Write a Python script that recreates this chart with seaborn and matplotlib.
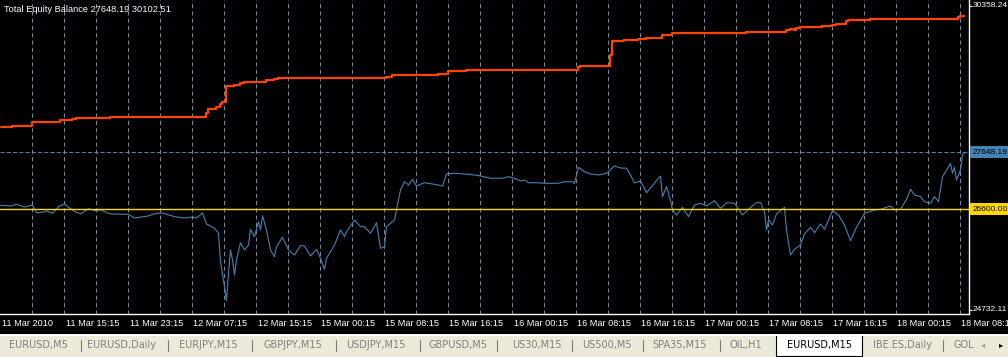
import matplotlib
matplotlib.use("Agg")
import matplotlib.pyplot as plt
import pandas as pd
import seaborn as sns
from matplotlib.patches import Rectangle
from matplotlib.transforms import blended_transform_factory

# ---------------- data ----------------
title_text = "Total Equity Balance 27648.19 30102.51"
x_labels = ["11 Mar 2010", "11 Mar 15:15", "11 Mar 23:15", "12 Mar 07:15", "12 Mar 15:15",
            "15 Mar 00:15", "15 Mar 08:15", "15 Mar 16:15", "16 Mar 00:15", "16 Mar 08:15",
            "16 Mar 16:15", "17 Mar 00:15", "17 Mar 08:15", "17 Mar 16:15", "18 Mar 00:15",
            "18 Mar 08:15"]

balance_bar = [0, 6, 16, 18, 30, 36, 38, 55, 103, 104, 108, 110, 111, 113, 117, 120, 122,
               133, 137, 139, 193, 196, 200, 219, 224, 233, 289, 290, 292, 305, 306, 312,
               319, 323, 331, 336, 373, 393, 395, 397, 398, 400, 405, 411, 416, 418, 423,
               424, 435, 479, 480, 482]
balance_val = [28119, 28143, 28206, 28217, 28254, 28267, 28291, 28310, 28372, 28452, 28483,
               28539, 28576, 28875, 28902, 28928, 28957, 28989, 29013, 29026, 29050, 29076,
               29087, 29105, 29155, 29180, 29224, 29242, 29253, 29451, 29716, 29735, 29753,
               29772, 29816, 29859, 29883, 29909, 29933, 29920, 29951, 29964, 29975, 29994,
               30012, 30031, 30081, 30099, 30118, 30149, 30173, 30173]

equity_bar = [0, 5, 8, 12, 16, 18, 21, 23, 26, 29, 32, 34, 37, 40, 44, 47, 50, 55, 64, 67,
              73, 78, 81, 87, 92, 96, 98, 101, 103, 107, 109, 110, 112, 113, 114, 115, 116,
              117, 118, 120, 122, 124, 125, 127, 129, 130, 131, 133, 135, 137, 138, 141, 144,
              147, 150, 152, 155, 158, 160, 162, 163, 167, 170, 172, 173, 177, 180, 182, 185,
              188, 190, 192, 193, 197, 199, 200, 202, 204, 206, 208, 212, 217, 221, 223, 227,
              232, 237, 240, 245, 251, 254, 257, 260, 262, 264, 268, 273, 279, 282, 286, 287,
              289, 292, 295, 299, 303, 307, 310, 313, 315, 317, 320, 323, 327, 328, 330, 331,
              333, 335, 336, 338, 341, 344, 347, 350, 353, 357, 360, 363, 367, 371, 374, 378,
              380, 382, 383, 384, 386, 388, 392, 393, 395, 397, 400, 402, 405, 407, 410, 412,
              416, 419, 422, 425, 428, 432, 437, 440, 445, 447, 450, 453, 455, 457, 460, 462,
              465, 467, 469, 471, 472, 475, 476, 477, 478, 480, 481, 482]
equity_val = [26670, 26657, 26688, 26638, 26675, 26533, 26540, 26564, 26522, 26644, 26694,
              26633, 26559, 26509, 26607, 26570, 26583, 26509, 26503, 26435, 26466, 26522,
              26527, 26459, 26435, 26453, 26435, 26527, 26324, 26244, 26152, 25626, 25163,
              24904, 25411, 25843, 25658, 25380, 25658, 25978, 25843, 25935, 26226, 26089,
              26366, 26213, 26477, 26213, 25843, 25719, 25904, 26078, 25843, 25750, 25922,
              25917, 25732, 25856, 25689, 25485, 25689, 25935, 26213, 26089, 26181, 26398,
              26274, 26274, 26152, 26348, 25874, 25904, 26274, 26398, 26768, 26953, 27107,
              27046, 27151, 27027, 27088, 27058, 27027, 27249, 27262, 27249, 27231, 27212,
              27170, 27170, 27199, 27170, 27120, 27138, 27088, 27088, 27077, 27077, 27107,
              27107, 27077, 27373, 27292, 27249, 27231, 27262, 27397, 27360, 27355, 27231,
              27083, 27120, 26903, 27077, 27125, 27212, 26829, 27014, 26768, 26583, 26490,
              26633, 26459, 26675, 26707, 26657, 26755, 26614, 26718, 26707, 26490, 26596,
              26718, 26725, 26551, 26213, 26398, 26305, 26509, 26633, 26213, 25750, 25856,
              25935, 26139, 26263, 26163, 26324, 26226, 26570, 26490, 26305, 26015, 26263,
              26522, 26583, 26596, 26657, 26583, 26596, 26781, 26966, 26860, 26829, 26736,
              26707, 26829, 26736, 27199, 27262, 27443, 27262, 27373, 27138, 27323, 27601,
              27648.19]

start_level = 26600.0
equity_last = 27648.19
scale_top = 30358.24
scale_bottom = 24732.11

tab_names = ["EURUSD,M5", "EURUSD,Daily", "EURJPY,M15", "GBPJPY,M15", "USDJPY,M15",
             "GBPUSD,M5", "US30,M15", "US500,M5", "SPA35,M15", "OIL,H1", "EURUSD,M15",
             "IBE.ES,Daily", "GOLD"]
active_tab = "EURUSD,M15"

# ---------------- style ----------------
sns.set_style("dark")
plt.rcParams["font.family"] = ["Liberation Sans", "DejaVu Sans"]

ORANGE = "#FF4500"
BLUE = "#4682B4"
GOLD = "#FFD700"
GRID = "#778899"
BEIGE = "#ECE9D8"

W, H = 1008, 357
fig = plt.figure(figsize=(W / 100, H / 100), dpi=100, facecolor="black")

# main chart area: x 0..969 px, y 0..314 px
ax = fig.add_axes([0, 1 - 314 / H, 969 / W, 314 / H])
ax.set_facecolor("black")

bal_df = pd.DataFrame({"bar": balance_bar, "value": balance_val})
eq_df = pd.DataFrame({"bar": equity_bar, "value": equity_val})

sns.lineplot(data=bal_df, x="bar", y="value", ax=ax, color=ORANGE, linewidth=1.6,
             drawstyle="steps-post", estimator=None, sort=False)
sns.lineplot(data=eq_df, x="bar", y="value", ax=ax, color=BLUE, linewidth=0.8,
             estimator=None, sort=False)
ax.axhline(start_level, color=GOLD, linewidth=1.0, zorder=3)
ax.axhline(equity_last, color=BLUE, linewidth=0.75, dashes=(4, 2), zorder=3)

ax.set_xlim(-0.25, 484.25)
ax.set_ylim(24658, 30469)

# vertical grid every 16 bars
for b in range(16, 484, 16):
    ax.axvline(b, color=GRID, linewidth=0.75, dashes=(4, 3), zorder=1)

major = list(range(0, 484, 32))
minor = list(range(16, 484, 32))
ax.set_xticks(major)
ax.set_xticks(minor, minor=True)
ax.set_xticklabels(x_labels[:len(major)], ha="left")
ax.tick_params(axis="x", which="major", colors="white", length=5.5, width=0.8,
               labelsize=6.6, pad=0.5, direction="inout")
ax.tick_params(axis="x", which="minor", colors="white", length=2.2, width=0.8,
               direction="in")
for lbl in ax.get_xticklabels():
    lbl.set_transform(lbl.get_transform() + matplotlib.transforms.ScaledTranslation(
        1 / 100, 0, fig.dpi_scale_trans))

ax.set_yticks([scale_bottom, start_level, equity_last, scale_top])
ax.set_yticklabels([])
ax.yaxis.tick_right()
ax.tick_params(axis="y", colors="white", length=2.2, width=0.8, direction="out")
ax.set_xlabel("")
ax.set_ylabel("")

for side in ["top", "left"]:
    ax.spines[side].set_visible(False)
for side in ["right", "bottom"]:
    ax.spines[side].set_visible(True)
    ax.spines[side].set_color("white")
    ax.spines[side].set_linewidth(1.0)
ax.grid(False)

tr = blended_transform_factory(ax.transAxes, ax.transData)
xr = 972.5 / 969
yfs = 6.0
ax.text(xr, scale_top, "30358.24", transform=tr, color="white", fontsize=yfs,
        va="center", ha="left", clip_on=False)
ax.text(xr, scale_bottom, "24732.11", transform=tr, color="white", fontsize=yfs,
        va="center", ha="left", clip_on=False)
ax.text(xr, equity_last, "27648.19", transform=tr, color="black", fontsize=yfs,
        va="center", ha="left", clip_on=False,
        bbox=dict(boxstyle="square,pad=0.3", fc=BLUE, ec="none"))
ax.text(xr, start_level, "26600.00", transform=tr, color="black", fontsize=yfs,
        va="center", ha="left", clip_on=False,
        bbox=dict(boxstyle="square,pad=0.3", fc=GOLD, ec="none"))

ax.text(4 / 969, 1 - 10 / 314, title_text, transform=ax.transAxes, color="white",
        fontsize=6.7, va="center", ha="left")

# ---------------- tab bar ----------------
tab_ax = fig.add_axes([0, 0, 1, 23 / H])
tab_ax.set_xlim(0, W)
tab_ax.set_ylim(23, 0)
tab_ax.axis("off")
tab_ax.add_patch(Rectangle((0, 0), W, 23, facecolor=BEIGE, edgecolor="none"))
tab_ax.plot([0, W], [0.5, 0.5], color="white", linewidth=1.2)
tab_ax.add_patch(Rectangle((776, 0.5), 86, 21.5, facecolor="white", edgecolor="black",
                           linewidth=0.8))
tab_ax.plot([776, 862], [0.5, 0.5], color="white", linewidth=1.4)

tab_centers = [38, 122, 208, 293, 376, 458, 537, 607, 680, 746, 819, 902, 963]
separators = [80.7, 167.7, 251.7, 335.7, 420, 496.7, 571.7, 643.3, 720, 943.3]
for sx in separators:
    tab_ax.plot([sx, sx], [6, 17], color="#7A7A7A", linewidth=0.8)
for name, cx in zip(tab_names, tab_centers):
    col = "black" if name == active_tab else "#808080"
    if name == "GOLD":
        t = tab_ax.text(953, 11, name, color=col, fontsize=7, family="DejaVu Sans",
                        ha="left", va="center")
        t.set_clip_box(matplotlib.transforms.TransformedBbox(
            matplotlib.transforms.Bbox([[0, 0], [974, 23]]), tab_ax.transData))
        t.set_clip_on(True)
    else:
        tab_ax.text(cx, 11, name, color=col, fontsize=7, family="DejaVu Sans",
                    ha="center", va="center")
tab_ax.text(983, 11, "\u25C2", color="#9A9A9A", fontsize=6, family="DejaVu Sans",
            ha="center", va="center")
tab_ax.text(1001, 11, "\u25B8", color="black", fontsize=6, family="DejaVu Sans",
            ha="center", va="center")

fig.savefig("out.png", dpi=100, facecolor="black")
